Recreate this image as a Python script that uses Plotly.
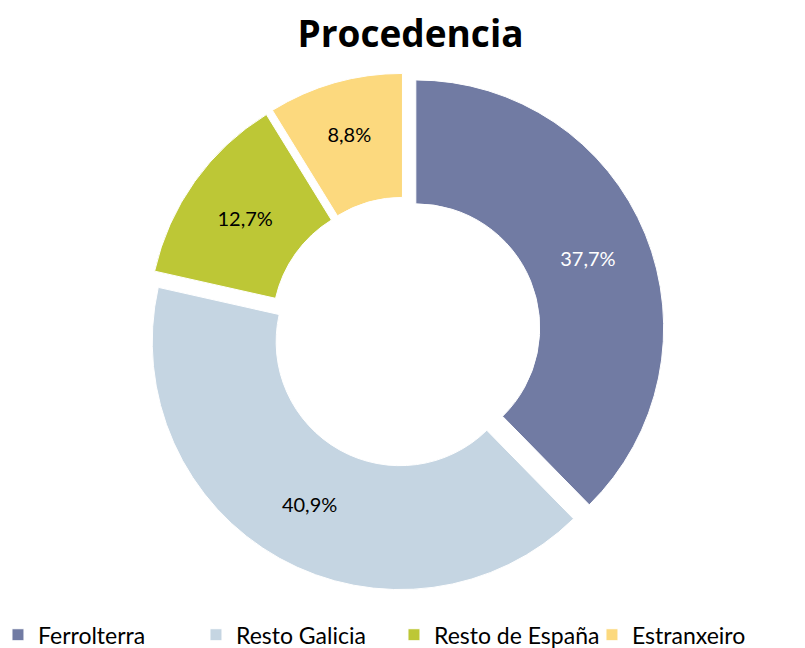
import plotly.graph_objects as go

categories = ["Ferrolterra", "Resto Galicia", "Resto de España", "Estranxeiro"]
values = [37.7, 40.9, 12.7, 8.8]
labels_text = ["37,7%", "40,9%", "12,7%", "8,8%"]
colors = ["#717BA3", "#C5D5E2", "#BDC736", "#FCD97E"]
text_colors = ["white", "black", "black", "black"]

fig = go.Figure(go.Pie(
    labels=categories,
    values=values,
    text=labels_text,
    textinfo="text",
    textposition="inside",
    insidetextorientation="horizontal",
    textfont=dict(family="Lato", size=20, color=text_colors),
    hole=0.5,
    sort=False,
    direction="clockwise",
    rotation=0,
    pull=[0.045, 0.045, 0.045, 0.045],
    marker=dict(colors=colors, line=dict(color="white", width=1)),
))

fig.update_layout(
    width=805, height=648,
    paper_bgcolor="white",
    plot_bgcolor="white",
    margin=dict(l=0, r=10, t=65, b=65, autoexpand=False),
    title=dict(text="<b>Procedencia</b>", x=0.5, xanchor="center", y=0.96, yanchor="middle",
               font=dict(family="Open Sans", size=37, color="black")),
    legend=dict(orientation="h", x=-0.0126, xanchor="left", y=-0.043, yanchor="top",
                font=dict(family="Lato", size=23, color="black"),
                itemwidth=30, entrywidth=153, entrywidthmode="pixels",
                traceorder="normal"),
    showlegend=True,
)

fig.write_html("out.html")
